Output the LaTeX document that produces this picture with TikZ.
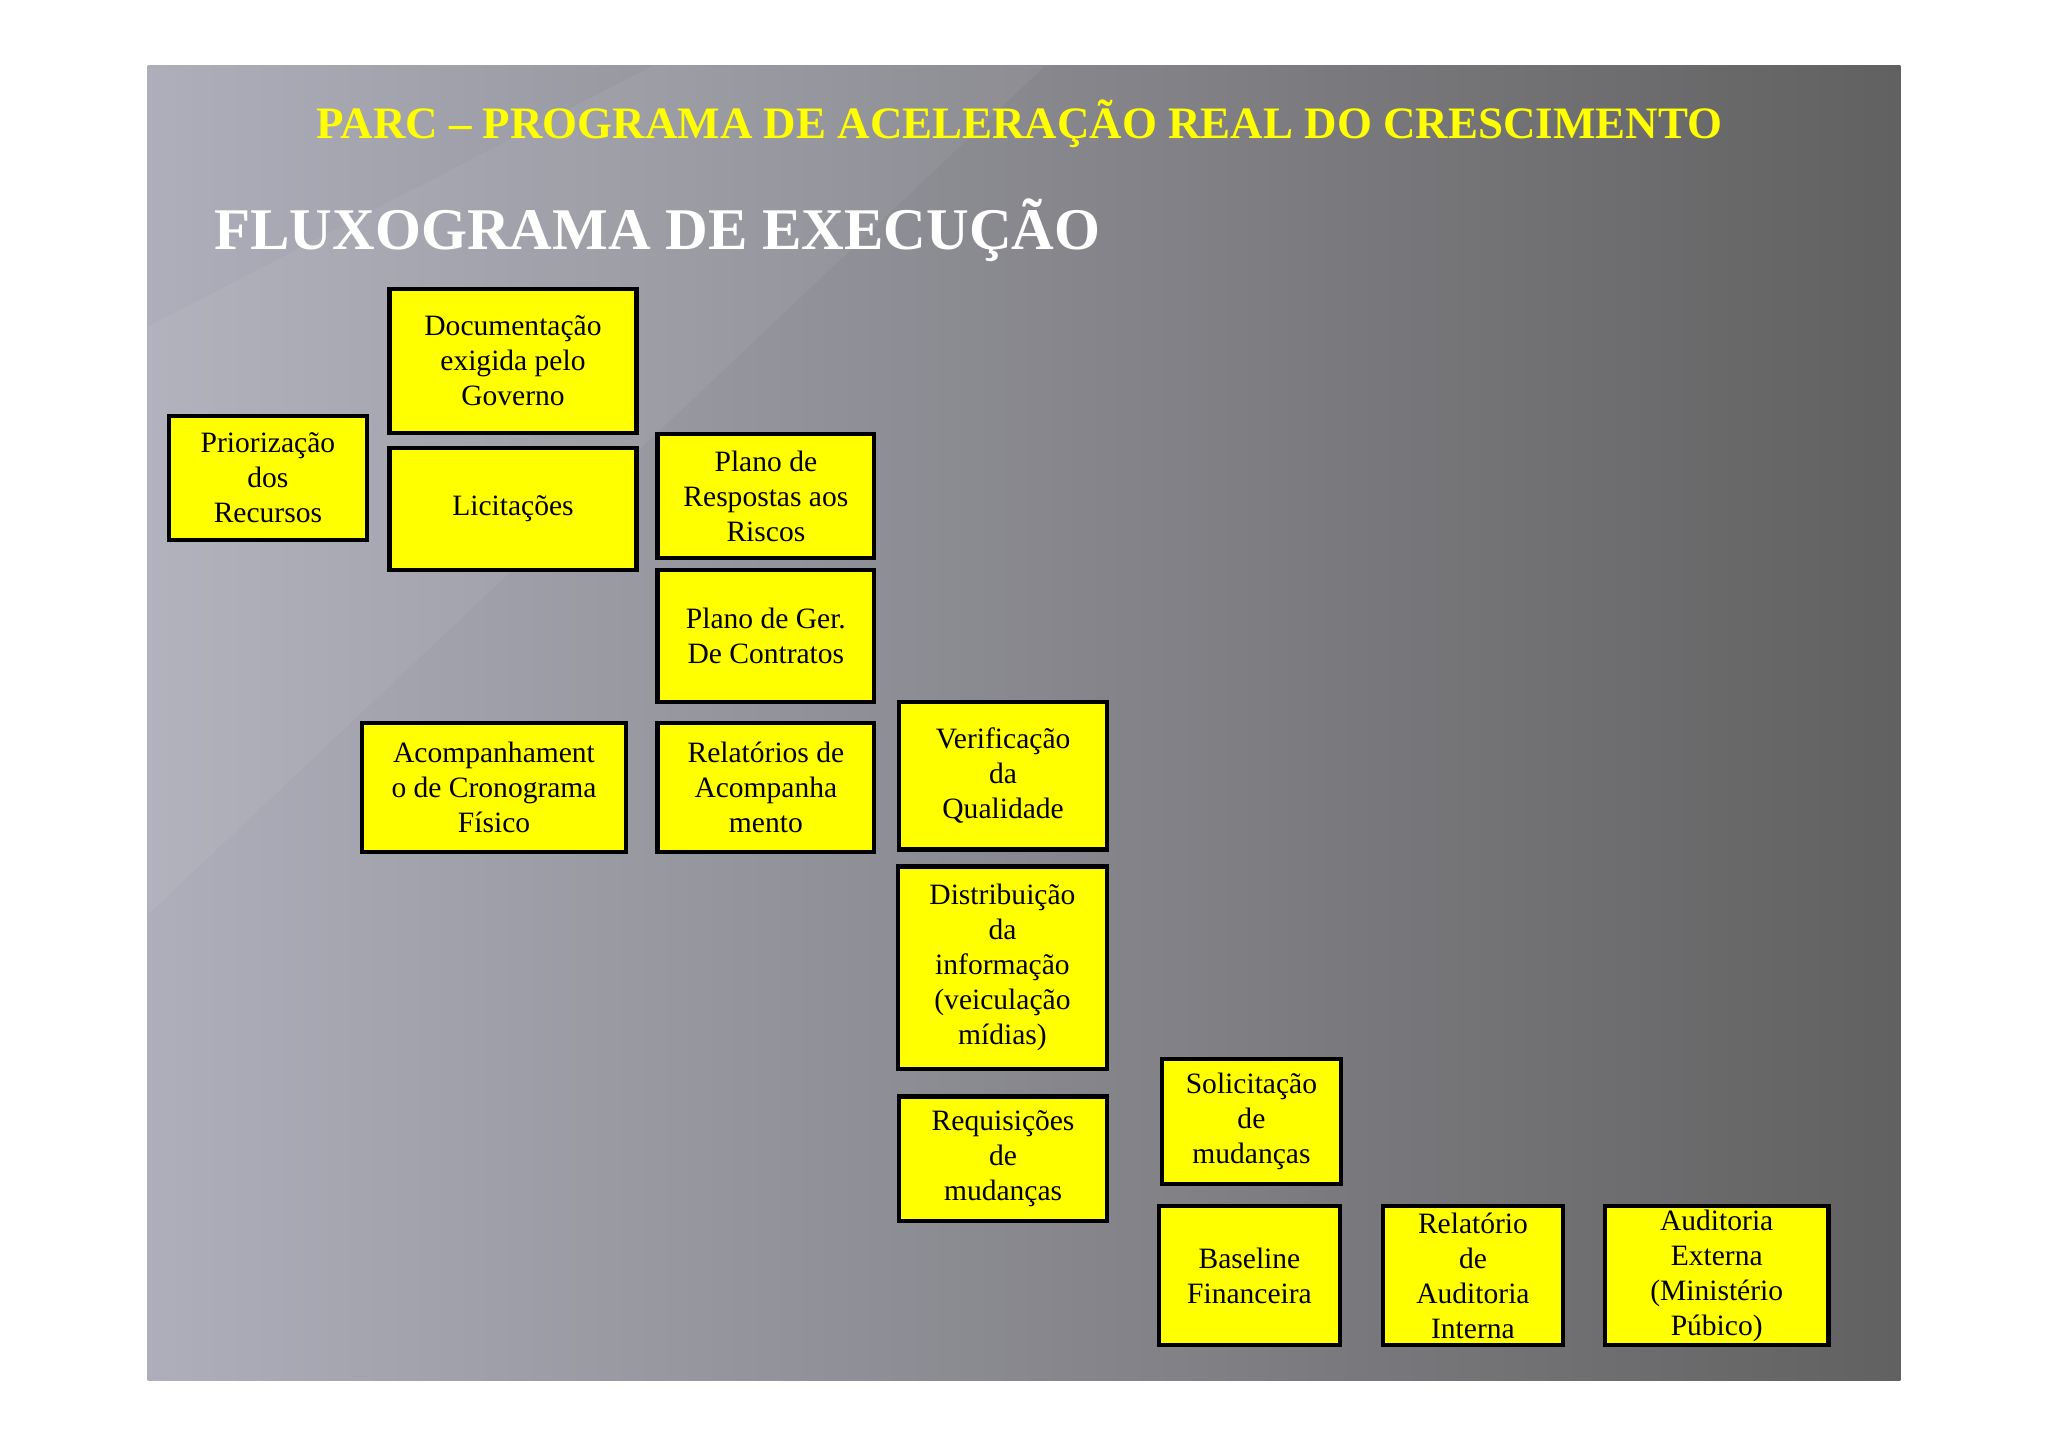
\documentclass[tikz,border=0pt]{standalone}
\usepackage{fontspec}
\setmainfont{Liberation Serif}
\definecolor{ylw}{RGB}{255,255,0}
\begin{document}
\begin{tikzpicture}[x=0.5pt,y=-0.5pt,
  bx/.style={draw=black,line width=1.6pt,fill=ylw,align=center,inner sep=0pt,font=\fontsize{11.3}{13.4}\selectfont}]
\useasboundingbox (0,0) rectangle (1567,1107);
\fill[white] (0,0) rectangle (1567,1107);
\shade[left color=black!28!white!95!blue, right color=black!62] (113,50) rectangle (1454,1056);
\fill[white,opacity=0.05] (113,250) -- (500,50) -- (800,50) -- (113,700) -- cycle;
\node (t1) at (780,95) {\fontsize{17.2}{20}\selectfont\bfseries\color{ylw}PARC – PROGRAMA DE ACELERAÇÃO REAL DO CRESCIMENTO};
\node[anchor=west] (t2) at (157,176) {\fontsize{22.6}{26}\selectfont\bfseries\color{white}FLUXOGRAMA DE EXECUÇÃO};
\newcommand{\bxx}[6]{\node[bx,minimum width={(#4-#2)*0.5pt},minimum height={(#5-#3)*0.5pt}] (#1) at ({(#2+#4)/2},{(#3+#5)/2}) {#6};}
\bxx{doc}{298}{221}{487}{331}{Documentação\\exigida pelo\\Governo}
\bxx{prio}{129}{318}{281}{413}{Priorização\\dos\\Recursos}
\bxx{lic}{298}{343}{487}{436}{Licitações}
\bxx{resp}{503}{332}{669}{427}{Plano de\\Respostas aos\\Riscos}
\bxx{ger}{503}{436}{669}{537}{Plano de Ger.\\De Contratos}
\bxx{acomp}{277}{553}{479}{652}{Acompanhament\\o de Cronograma\\Físico}
\bxx{relat}{503}{553}{669}{652}{Relatórios de\\Acompanha\\mento}
\bxx{verif}{688}{537}{847}{650}{Verificação\\da\\Qualidade}
\bxx{dist}{687}{663}{847}{818}{Distribuição\\da\\informação\\(veiculação\\mídias)}
\bxx{req}{688}{839}{847}{934}{Requisições\\de\\mudanças}
\bxx{sol}{889}{810}{1026}{906}{Solicitação\\de\\mudanças}
\bxx{base}{887}{923}{1025}{1029}{Baseline\\Financeira}
\bxx{raud}{1058}{923}{1196}{1029}{Relatório\\de\\Auditoria\\Interna}
\bxx{aext}{1228}{923}{1399}{1029}{Auditoria\\Externa\\(Ministério\\Púbico)}
\end{tikzpicture}
\end{document}
